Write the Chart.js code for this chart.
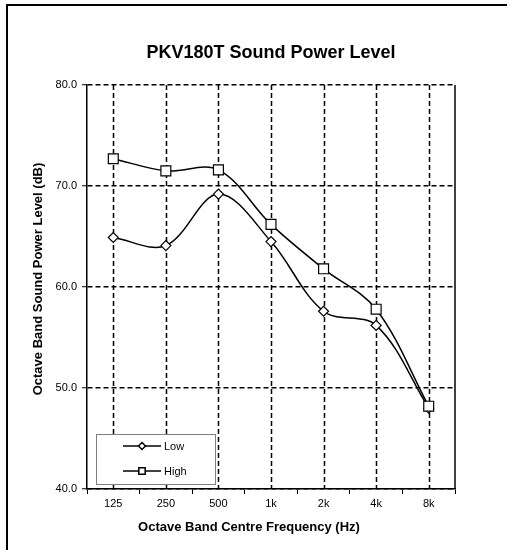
<!DOCTYPE html>
<html>
<head>
<meta charset="utf-8">
<script src="https://cdn.jsdelivr.net/npm/chart.js@4/dist/chart.umd.min.js"></script>
<style>
  html, body { margin: 0; padding: 0; background: #fff; }
  #wrap { position: relative; width: 507px; height: 550px; }
</style>
</head>
<body>
<div id="wrap"><canvas id="spl-chart" width="507" height="550"></canvas></div>
<script>
// chart values
const chartTitle = 'PKV180T Sound Power Level';
const xAxisTitle = 'Octave Band Centre Frequency (Hz)';
const yAxisTitle = 'Octave Band Sound Power Level (dB)';
const frequencies = ['125', '250', '500', '1k', '2k', '4k', '8k'];
const lowLevels = [64.9, 64.1, 69.2, 64.5, 57.6, 56.2, 48.0];
const highLevels = [72.7, 71.5, 71.6, 66.2, 61.8, 57.8, 48.2];
const yMin = 40;
const yMax = 80;
const yStep = 10;

const FONT = '"Liberation Sans", Arial, sans-serif';
Chart.defaults.font.family = FONT;
Chart.defaults.color = '#000';

// frame, centre grid lines, right border, axis titles and boxed legend
const decorations = {
    id: 'decorations',
    beforeDraw(chart) {
        const ctx = chart.ctx;
        ctx.save();
        ctx.fillStyle = '#fff';
        ctx.fillRect(0, 0, chart.width, chart.height);
        ctx.strokeStyle = '#000';
        ctx.lineWidth = 2;
        ctx.beginPath();
        ctx.moveTo(7, chart.height + 5);
        ctx.lineTo(7, 5);
        ctx.lineTo(chart.width + 5, 5);
        ctx.stroke();
        ctx.restore();
    },
    beforeDatasetsDraw(chart) {
        const ctx = chart.ctx;
        const area = chart.chartArea;
        const x = chart.scales.x;
        ctx.save();
        ctx.strokeStyle = '#000';
        ctx.lineWidth = 1.5;
        ctx.setLineDash([5, 3]);
        frequencies.forEach((f, i) => {
            const px = Math.round(x.getPixelForValue(i)) + 0.5;
            ctx.beginPath();
            ctx.moveTo(px, area.top);
            ctx.lineTo(px, area.bottom);
            ctx.stroke();
        });
        ctx.setLineDash([]);
        ctx.beginPath();
        ctx.moveTo(area.right, area.top);
        ctx.lineTo(area.right, area.bottom);
        ctx.stroke();
        ctx.restore();
    },
    afterDraw(chart) {
        const ctx = chart.ctx;
        ctx.save();
        ctx.fillStyle = '#000';
        ctx.font = 'bold 13px ' + FONT;
        ctx.textAlign = 'center';
        ctx.textBaseline = 'alphabetic';
        ctx.fillText(xAxisTitle, 249, 531);
        ctx.translate(41.5, 279);
        ctx.rotate(-Math.PI / 2);
        ctx.fillText(yAxisTitle, 0, 0);
        ctx.restore();

        // legend box
        ctx.save();
        ctx.fillStyle = '#fff';
        ctx.fillRect(96, 434, 119, 50);
        ctx.strokeStyle = '#808080';
        ctx.lineWidth = 1;
        ctx.strokeRect(96.5, 434.5, 119, 50);
        chart.data.datasets.forEach((ds, i) => {
            const y = 446 + i * 25;
            ctx.strokeStyle = '#000';
            ctx.lineWidth = 1.5;
            ctx.beginPath();
            ctx.moveTo(123, y);
            ctx.lineTo(161, y);
            ctx.stroke();
            ctx.fillStyle = '#fff';
            Chart.helpers.drawPoint(ctx, {
                pointStyle: ds.pointStyle,
                radius: ds.pointStyle === 'rect' ? 4.5 : 3.5,
                borderWidth: 1.2,
                rotation: 0
            }, 142, y);
            ctx.fillStyle = '#000';
            ctx.font = '11px ' + FONT;
            ctx.textAlign = 'left';
            ctx.textBaseline = 'middle';
            ctx.fillText(ds.label, 164, y + 1);
        });
        ctx.restore();
    }
};

new Chart(document.getElementById('spl-chart'), {
    type: 'line',
    data: {
        labels: frequencies,
        datasets: [
            {
                label: 'Low',
                data: lowLevels,
                order: 1,
                borderColor: '#000',
                borderWidth: 1.5,
                tension: 0.35,
                pointStyle: 'rectRot',
                pointRadius: 5,
                pointBackgroundColor: '#fff',
                pointBorderColor: '#000',
                pointBorderWidth: 1.2
            },
            {
                label: 'High',
                data: highLevels,
                order: 0,
                borderColor: '#000',
                borderWidth: 1.5,
                tension: 0.35,
                pointStyle: 'rect',
                pointRadius: 7,
                pointBackgroundColor: '#fff',
                pointBorderColor: '#000',
                pointBorderWidth: 1.2
            }
        ]
    },
    options: {
        responsive: false,
        animation: false,
        layout: { padding: { left: 0, right: 52, top: 0, bottom: 0 } },
        plugins: {
            legend: { display: false },
            tooltip: { enabled: false },
            title: {
                display: true,
                text: chartTitle,
                fullSize: false,
                color: '#000',
                font: { size: 18, weight: 'bold', lineHeight: 1.2 },
                padding: { top: 42, bottom: 21.4 }
            }
        },
        scales: {
            x: {
                type: 'category',
                offset: true,
                grid: {
                    offset: true,
                    drawOnChartArea: false,
                    tickColor: '#000',
                    tickLength: 5,
                    tickWidth: 1
                },
                border: { color: '#000', width: 1.5 },
                ticks: { font: { size: 11 }, padding: 3, color: '#000', maxRotation: 0 },
                afterFit(scale) { scale.height = 61; }
            },
            y: {
                min: yMin,
                max: yMax,
                grid: {
                    color: '#000',
                    lineWidth: 1.5,
                    tickColor: '#000',
                    tickLength: 5,
                    tickWidth: 1
                },
                border: { color: '#000', width: 1.5, dash: [5, 3] },
                ticks: {
                    stepSize: yStep,
                    font: { size: 11 },
                    padding: 5,
                    color: '#000',
                    callback: v => v.toFixed(1)
                },
                afterFit(scale) { scale.width = 87; }
            }
        }
    },
    plugins: [decorations]
});
</script>
</body>
</html>
